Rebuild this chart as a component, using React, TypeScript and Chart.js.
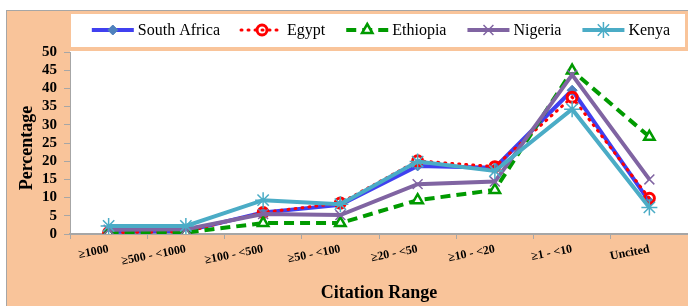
import React, { useEffect, useRef } from 'react';
import { Chart, registerables } from 'chart.js';
import { drawPoint } from 'chart.js/helpers';

Chart.register(...registerables);

const categories = ['≥1000', '≥500 - <1000', '≥100 - <500', '≥50 - <100', '≥20 - <50', '≥10 - <20', '≥1 - <10', 'Uncited'];
const southAfrica = [0.6, 0.8, 5.9, 8.0, 18.7, 18.2, 39.5, 8.9];
const egypt = [0.4, 0.6, 5.9, 8.5, 20.1, 18.5, 37.6, 9.8];
const ethiopia = [0.3, 0.4, 3.0, 3.0, 9.3, 12.1, 44.9, 26.7];
const nigeria = [1.2, 1.3, 5.5, 5.2, 13.7, 14.4, 43.7, 15.0];
const kenya = [2.2, 2.2, 9.3, 8.2, 19.9, 17.3, 34.3, 7.3];
const yMin = 0;
const yMax = 50;
const yStep = 5;
const xTitle = 'Citation Range';
const yTitle = 'Percentage';

const FONT = "'Liberation Serif', 'Times New Roman', serif";
const PEACH = '#F9C49A';
const GREY = '#A6A6A6';

const bgPlugin = {
  id: 'bgPlugin',
  beforeDraw(chart: any) {
    const { ctx, chartArea } = chart;
    ctx.save();
    ctx.fillStyle = PEACH;
    ctx.fillRect(6, 10, 700, 310);
    ctx.strokeStyle = GREY;
    ctx.lineWidth = 1;
    ctx.strokeRect(6.5, 10.5, 700, 310);
    ctx.fillStyle = '#ffffff';
    ctx.fillRect(71, 14, 614, 33);
    ctx.fillRect(chartArea.left, chartArea.top - 1, chartArea.right - chartArea.left, chartArea.bottom - chartArea.top + 1);
    ctx.restore();
  },
  afterDraw(chart: any) {
    const { ctx, chartArea } = chart;
    ctx.save();
    // Legend
    ctx.font = `16px ${FONT}`;
    const lineLen = 42, gap1 = 4, gap2 = 21;
    const ds = chart.data.datasets;
    let total = 0;
    ds.forEach((d: any, i: number) => {
      total += lineLen + gap1 + ctx.measureText(d.label).width + (i < ds.length - 1 ? gap2 : 0);
    });
    let x = 381 - total / 2;
    const y = 30;
    ds.forEach((d: any) => {
      ctx.save();
      ctx.strokeStyle = d.borderColor;
      ctx.lineWidth = d.borderWidth;
      ctx.setLineDash(d.borderDash || []);
      ctx.lineCap = d.borderCapStyle || 'butt';
      ctx.beginPath();
      ctx.moveTo(x, y);
      ctx.lineTo(x + lineLen, y);
      ctx.stroke();
      ctx.setLineDash([]);
      ctx.lineCap = 'butt';
      ctx.fillStyle = d.pointBackgroundColor;
      ctx.strokeStyle = d.pointBorderColor;
      ctx.lineWidth = d.pointBorderWidth;
      drawPoint(ctx, { pointStyle: d.pointStyle, radius: d.pointRadius, rotation: 0, borderWidth: d.pointBorderWidth } as any, x + lineLen / 2, y);
      ctx.restore();
      ctx.fillStyle = '#000';
      ctx.textBaseline = 'middle';
      ctx.textAlign = 'left';
      ctx.font = `16px ${FONT}`;
      ctx.fillText(d.label, x + lineLen + gap1, y + 1);
      x += lineLen + gap1 + ctx.measureText(d.label).width + gap2;
    });
    // Axis titles
    ctx.fillStyle = '#000';
    ctx.font = `bold 18px ${FONT}`;
    ctx.textAlign = 'center';
    ctx.textBaseline = 'middle';
    ctx.fillText(xTitle, (chartArea.left + chartArea.right) / 2, 293);
    ctx.translate(27, 148);
    ctx.rotate(-Math.PI / 2);
    ctx.fillText(yTitle, 0, 0);
    ctx.restore();
  },
};

export default function App() {
  const ref = useRef<HTMLCanvasElement | null>(null);
  useEffect(() => {
    if (!ref.current) return;
    const chart = new Chart(ref.current, {
      type: 'line',
      data: {
        labels: categories,
        datasets: [
          {
            label: 'South Africa', data: southAfrica, order: 5,
            borderColor: '#4040F0', borderWidth: 4,
            pointStyle: 'rectRot', pointRadius: 5, pointBackgroundColor: '#4F81BD', pointBorderColor: '#4F81BD', pointBorderWidth: 1,
          },
          {
            label: 'Egypt', data: egypt, order: 4,
            borderColor: '#FF0000', borderWidth: 3, borderDash: [1, 6], borderCapStyle: 'round',
            pointStyle: 'circle', pointRadius: 5, pointBackgroundColor: 'rgba(255,255,255,0)', pointBorderColor: '#FF0000', pointBorderWidth: 3,
          },
          {
            label: 'Ethiopia', data: ethiopia, order: 3,
            borderColor: '#009A00', borderWidth: 4, borderDash: [10, 6],
            pointStyle: 'triangle', pointRadius: 6, pointBackgroundColor: '#ffffff', pointBorderColor: '#009A00', pointBorderWidth: 2.5,
          },
          {
            label: 'Nigeria', data: nigeria, order: 2,
            borderColor: '#8064A2', borderWidth: 4,
            pointStyle: 'crossRot', pointRadius: 7, pointBackgroundColor: '#8064A2', pointBorderColor: '#8064A2', pointBorderWidth: 1.5,
          },
          {
            label: 'Kenya', data: kenya, order: 1,
            borderColor: '#4BACC6', borderWidth: 4,
            pointStyle: 'star', pointRadius: 8, pointBackgroundColor: '#4BACC6', pointBorderColor: '#4BACC6', pointBorderWidth: 1.5,
          },
        ] as any,
      },
      options: {
        responsive: false,
        animation: false,
        devicePixelRatio: 1,
        layout: { autoPadding: false, padding: { left: 7, top: 52, right: 0, bottom: 0 } },
        plugins: { legend: { display: false }, tooltip: { enabled: false } },
        elements: { line: { tension: 0 } },
        scales: {
          x: {
            offset: true,
            grid: { offset: true, drawOnChartArea: false, drawTicks: true, tickLength: 5, color: GREY, lineWidth: 1 },
            border: { color: GREY, width: 2 },
            ticks: {
              color: '#000', font: { family: FONT, size: 12, weight: 'bold' },
              minRotation: 11, maxRotation: 11, padding: 3, autoSkip: false,
            },
            afterFit: (s: any) => { s.height = 72; s.paddingLeft = 0; s.paddingRight = 0; },
          },
          y: {
            min: yMin, max: yMax,
            grid: { drawOnChartArea: false, drawTicks: true, tickLength: 6, color: GREY },
            border: { color: GREY, width: 1 },
            ticks: { stepSize: yStep, autoSkip: false, color: '#000', font: { family: FONT, size: 15, weight: 'bold' }, padding: 7 },
            afterFit: (s: any) => { s.width = 63; s.paddingTop = 0; s.paddingBottom = 0; },
          },
        },
      },
      plugins: [bgPlugin],
    } as any);
    return () => chart.destroy();
  }, []);
  return (
    <div style={{ position: 'absolute', left: 0, top: 0, width: 688, height: 306 }}>
      <canvas ref={ref} width={688} height={306} style={{ display: 'block', width: 688, height: 306 }} />
    </div>
  );
}
